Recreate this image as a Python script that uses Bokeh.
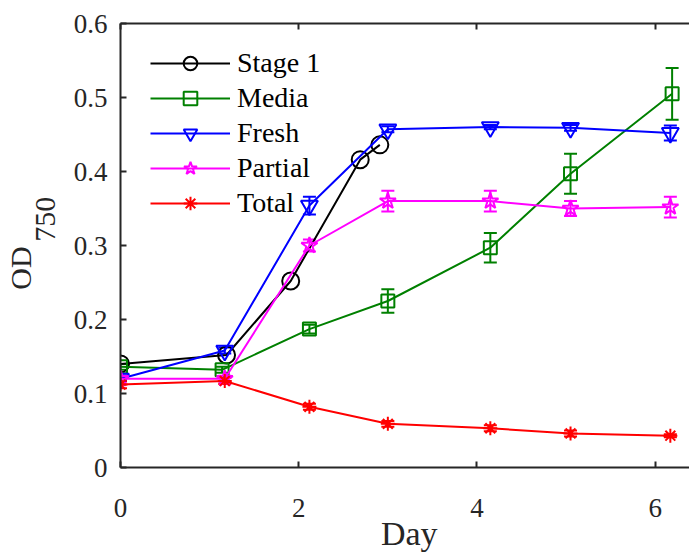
from bokeh.plotting import figure
from bokeh.models import (ColumnDataSource, Whisker, TeeHead, Legend, LegendItem,
                          LinearAxis, FixedTicker)
from bokeh.embed import file_html
from bokeh.resources import INLINE

# ---------------- data ----------------
day_stage1 = [0, 1.19, 1.91, 2.69, 2.91]
od_stage1 = [0.140, 0.152, 0.252, 0.416, 0.436]

day = [0, 1.17, 2.12, 3.0, 4.15, 5.05, 6.17]
day_media = [0, 1.14, 2.12, 3.0, 4.15, 5.05, 6.19]

od_media = [0.136, 0.132, 0.187, 0.225, 0.297, 0.397, 0.505]
err_media = [0.004, 0.004, 0.006, 0.016, 0.020, 0.027, 0.035]

od_fresh = [0.120, 0.158, 0.354, 0.457, 0.460, 0.459, 0.452]
err_fresh = [0.003, 0.004, 0.012, 0.004, 0.003, 0.004, 0.010]

od_partial = [0.120, 0.120, 0.300, 0.360, 0.360, 0.350, 0.352]
err_partial = [0.004, 0.004, 0.008, 0.014, 0.014, 0.010, 0.014]

od_total = [0.112, 0.117, 0.082, 0.059, 0.053, 0.046, 0.043]
err_total = [0.005, 0.004, 0.004, 0.004, 0.004, 0.004, 0.002]

x_ticks = [0, 2, 4, 6]
y_ticks = [0, 0.1, 0.2, 0.3, 0.4, 0.5, 0.6]
y_tick_labels = ["0", "0.1", "0.2", "0.3", "0.4", "0.5", "0.6"]

FONT = "Liberation Serif"
AX = "#262626"
NB = "\u00a0"

p = figure(width=689, height=555, x_range=(0, 6.385), y_range=(0, 0.6),
           output_backend="svg", toolbar_location=None,
           min_border_left=118, min_border_right=0, min_border_top=23,
           min_border_bottom=88)
p.outline_line_color = None
p.grid.visible = False
p.background_fill_color = "white"
p.border_fill_color = "white"

xax = p.below[0]
yax = p.left[0]
top_axis = LinearAxis()
p.add_layout(top_axis, "above")

for ax in [xax, yax, top_axis]:
    ax.axis_line_color = AX
    ax.axis_line_width = 2
    ax.major_tick_line_color = AX
    ax.major_tick_line_width = 2
    ax.major_tick_in = 6
    ax.major_tick_out = 0
    ax.minor_tick_line_color = None
    ax.major_label_text_font = FONT
    ax.major_label_text_font_size = "27px"
    ax.major_label_text_color = AX
    ax.axis_label_text_font = FONT
    ax.axis_label_text_font_style = "normal"
    ax.axis_label_text_color = AX

xax.ticker = FixedTicker(ticks=x_ticks)
xax.major_label_standoff = 31
xax.axis_label = NB + "Day"
xax.axis_label_text_font_size = "34px"
xax.axis_label_standoff = -5

top_axis.ticker = FixedTicker(ticks=x_ticks)
top_axis.major_label_overrides = {t: "" for t in x_ticks}
top_axis.major_label_standoff = 0

yax.ticker = FixedTicker(ticks=y_ticks)
yax.major_label_overrides = {t: l for t, l in zip(y_ticks, y_tick_labels)}
yax.major_label_standoff = 13
yax.axis_label = "OD" + NB * 6 + "\n" + NB * 7 + "750"
yax.axis_label_text_font_size = "30px"
yax.axis_label_text_line_height = 0.72
yax.axis_label_standoff = 10


def series(xs, ys, errs, color, marker, size):
    if errs is None:
        src = ColumnDataSource(dict(x=xs, y=ys))
    else:
        src = ColumnDataSource(dict(x=xs, y=ys,
                                    lo=[a - b for a, b in zip(ys, errs)],
                                    hi=[a + b for a, b in zip(ys, errs)]))
    ln = p.line("x", "y", source=src, line_color=color, line_width=2)
    rends = [ln]
    if errs is not None:
        w = Whisker(source=src, base="x", upper="hi", lower="lo", dimension="height",
                    line_color=color, line_width=2,
                    upper_head=TeeHead(size=13, line_color=color, line_width=2),
                    lower_head=TeeHead(size=13, line_color=color, line_width=2))
        p.add_layout(w)
        eb = p.scatter(x=[], y=[], marker="cross", size=14, line_color=color, line_width=2)
        rends.append(eb)
    sc = p.scatter("x", "y", source=src, marker=marker, size=size,
                   line_color=color, fill_color=None, line_width=2)
    rends.append(sc)
    return rends


r_stage1 = series(day_stage1, od_stage1, None, "black", "circle", 17)
r_media = series(day_media, od_media, err_media, "#008000", "square", 13)
r_fresh = series(day, od_fresh, err_fresh, "#0000ff", "inverted_triangle", 17)
r_partial = series(day, od_partial, err_partial, "#ff00ff", "star", 17)
r_total = series(day, od_total, err_total, "#ff0000", "asterisk", 14)

legend = Legend(items=[
    LegendItem(label="Stage 1", renderers=r_stage1),
    LegendItem(label="Media", renderers=r_media),
    LegendItem(label="Fresh", renderers=r_fresh),
    LegendItem(label="Partial", renderers=r_partial),
    LegendItem(label="Total", renderers=r_total),
], location=(30, 247), border_line_color=None, background_fill_alpha=0,
    label_text_font=FONT, label_text_font_size="28px", label_text_color="black",
    glyph_width=80, glyph_height=34, spacing=1, padding=0, margin=0,
    label_standoff=7)
p.add_layout(legend)

open("out.html", "w").write(file_html(p, INLINE))
